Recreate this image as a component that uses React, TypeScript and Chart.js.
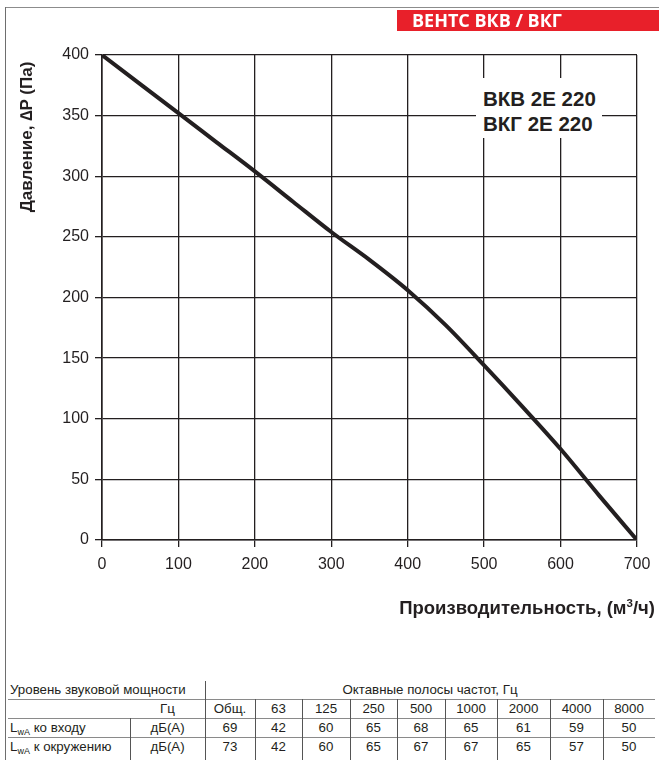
import React, { useEffect, useRef } from 'react';
import { Chart, registerables } from 'chart.js';

Chart.register(...registerables);

// ---------- data ----------
const FLOW = [0, 50, 100, 150, 200, 250, 300, 350, 400, 450, 500, 550, 600, 650, 700];
const PRESSURE = [400, 376, 352, 328, 304, 279, 254, 231, 206, 177, 144, 110, 75, 37, 0];
const X_TICKS = [0, 100, 200, 300, 400, 500, 600, 700];
const Y_TICKS = [0, 50, 100, 150, 200, 250, 300, 350, 400];
const BANNER = 'ВЕНТС ВКВ / ВКГ';
const MODELS = ['ВКВ 2Е 220', 'ВКГ 2Е 220'];
const Y_TITLE = 'Давление, ∆P (Па)';
const X_TITLE_MAIN = 'Производительность, (м';
const X_TITLE_SUP = '3';
const X_TITLE_END = '/ч)';
const TABLE_TITLE = 'Уровень звуковой мощности';
const BANDS_TITLE = 'Октавные полосы частот, Гц';
const HZ_LABEL = 'Гц';
const DB_LABEL = 'дБ(А)';
const BANDS = ['Общ.', '63', '125', '250', '500', '1000', '2000', '4000', '8000'];
const ROW_NAMES = ['ко входу', 'к окружению'];
const INLET = [69, 42, 60, 65, 68, 65, 61, 59, 50];
const SURROUND = [73, 42, 60, 65, 67, 67, 65, 57, 50];

// ---------- styles ----------
const INK = '#231f20';
const GRID = '#231f20';
const RED = '#e8202a';
const LINE_GREY = '#8a8a8a';
const FONT = '"Liberation Sans", Arial, Helvetica, sans-serif';

const COL_EDGES = [205, 255, 302, 350, 397, 445, 497, 550, 603, 655];
const ROW_TOPS = [681, 699, 718, 737, 756];
const UNIT_SEP = 130;
const T_LEFT = 8;

function Cell(props: { left: number; width: number; top: number; height: number; align?: string; children: React.ReactNode }) {
  const { left, width, top, height, align, children } = props;
  return (
    <div
      style={{
        position: 'absolute',
        left,
        width,
        top,
        height,
        lineHeight: height + 'px',
        textAlign: (align || 'center') as any,
        fontFamily: FONT,
        fontSize: 13.3,
        color: INK,
        whiteSpace: 'nowrap',
      }}
    >
      {children}
    </div>
  );
}

function HLine(props: { x1: number; x2: number; y: number; color?: string }) {
  return (
    <div
      style={{
        position: 'absolute',
        left: props.x1,
        top: props.y,
        width: props.x2 - props.x1,
        height: 1,
        background: props.color || LINE_GREY,
      }}
    />
  );
}

function VLine(props: { x: number; y1: number; y2: number; color?: string }) {
  return (
    <div
      style={{
        position: 'absolute',
        left: props.x,
        top: props.y1,
        width: 1,
        height: props.y2 - props.y1,
        background: props.color || '#555',
      }}
    />
  );
}

function LwA(props: { name: string }) {
  return (
    <span>
      L<span style={{ fontSize: 9, position: 'relative', top: 3 }}>wA</span> {props.name}
    </span>
  );
}

export default function App() {
  const canvasRef = useRef<HTMLCanvasElement | null>(null);

  useEffect(() => {
    const canvas = canvasRef.current;
    if (!canvas) return;
    const chart = new Chart(canvas, {
      type: 'line',
      data: {
        datasets: [
          {
            data: FLOW.map((x, i) => ({ x, y: PRESSURE[i] })),
            borderColor: INK,
            borderWidth: 4,
            pointRadius: 0,
            tension: 0.4,
            cubicInterpolationMode: 'monotone',
            fill: false,
          },
        ],
      },
      options: {
        animation: false,
        responsive: false,
        maintainAspectRatio: false,
        devicePixelRatio: 1,
        layout: { padding: { top: 55, right: 22, left: 0, bottom: 0 } },
        plugins: { legend: { display: false }, tooltip: { enabled: false } },
        scales: {
          x: {
            type: 'linear',
            min: 0,
            max: 700,
            afterBuildTicks: (s: any) => {
              s.ticks = X_TICKS.map((v) => ({ value: v }));
            },
            afterFit: (s: any) => {
              s.height = 100;
            },
            grid: { color: GRID, lineWidth: 1.3, tickLength: 7, drawTicks: true },
            border: { color: INK, width: 1.6 },
            ticks: { color: INK, font: { family: FONT, size: 16 }, padding: 8, maxRotation: 0 },
          },
          y: {
            type: 'linear',
            min: 0,
            max: 400,
            afterBuildTicks: (s: any) => {
              s.ticks = Y_TICKS.map((v) => ({ value: v }));
            },
            afterFit: (s: any) => {
              s.width = 102;
            },
            grid: { color: GRID, lineWidth: 1.3, tickLength: 7, drawTicks: true },
            border: { color: INK, width: 1.6 },
            ticks: { color: INK, font: { family: FONT, size: 16 }, padding: 6 },
          },
        },
      } as any,
    });
    return () => chart.destroy();
  }, []);

  return (
    <div style={{ position: 'absolute', left: 0, top: 0, width: 659, height: 760, background: '#fff', overflow: 'hidden' }}>
      <canvas ref={canvasRef} width={659} height={640} style={{ position: 'absolute', left: 0, top: 0, width: 659, height: 640 }} />

      {/* frame */}
      <HLine x1={5} x2={659} y={7} color="#8c8c8c" />
      <VLine x={5} y1={7} y2={760} color="#6e6e6e" />

      {/* banner */}
      <div
        style={{
          position: 'absolute',
          left: 397,
          top: 10,
          width: 262,
          height: 21,
          background: RED,
          color: '#fff',
          fontFamily: '"Open Sans", "Noto Sans", sans-serif',
          fontWeight: 700,
          fontSize: 18,
          lineHeight: '21px',
          paddingLeft: 15,
          boxSizing: 'border-box',
          whiteSpace: 'nowrap',
        }}
      >
        {BANNER}
      </div>

      {/* model label box */}
      <div
        style={{
          position: 'absolute',
          left: 476,
          top: 78,
          width: 126,
          height: 60,
          background: '#fff',
          fontFamily: FONT,
          fontWeight: 700,
          fontSize: 20.5,
          color: INK,
          lineHeight: '25px',
          paddingLeft: 7,
          paddingTop: 8,
          boxSizing: 'border-box',
          whiteSpace: 'nowrap',
        }}
      >
        {MODELS.map((m) => (
          <div key={m}>{m}</div>
        ))}
      </div>

      {/* y title */}
      <div
        style={{
          position: 'absolute',
          left: 27 - 110,
          top: 137 - 10,
          width: 220,
          height: 20,
          lineHeight: '20px',
          textAlign: 'center',
          transform: 'rotate(-90deg)',
          transformOrigin: '50% 50%',
          fontFamily: FONT,
          fontWeight: 700,
          fontSize: 17,
          color: INK,
          whiteSpace: 'nowrap',
        }}
      >
        {Y_TITLE}
      </div>

      {/* x title */}
      <div
        style={{
          position: 'absolute',
          left: 300,
          width: 355,
          top: 598,
          height: 20,
          lineHeight: '20px',
          textAlign: 'right',
          fontFamily: FONT,
          fontWeight: 700,
          fontSize: 18.5,
          color: INK,
          whiteSpace: 'nowrap',
        }}
      >
        {X_TITLE_MAIN}
        <sup style={{ fontSize: 11.5, verticalAlign: 0, position: 'relative', top: -7 }}>{X_TITLE_SUP}</sup>
        {X_TITLE_END}
      </div>

      {/* table */}
      <Cell left={10} width={190} top={ROW_TOPS[0]} height={ROW_TOPS[1] - ROW_TOPS[0]} align="left">
        {TABLE_TITLE}
      </Cell>
      <Cell left={COL_EDGES[0]} width={COL_EDGES[COL_EDGES.length - 1] - COL_EDGES[0]} top={ROW_TOPS[0]} height={ROW_TOPS[1] - ROW_TOPS[0]}>
        {BANDS_TITLE}
      </Cell>
      <Cell left={UNIT_SEP} width={COL_EDGES[0] - UNIT_SEP} top={ROW_TOPS[1]} height={ROW_TOPS[2] - ROW_TOPS[1]}>
        {HZ_LABEL}
      </Cell>
      {BANDS.map((b, i) => (
        <Cell key={'b' + i} left={COL_EDGES[i]} width={COL_EDGES[i + 1] - COL_EDGES[i]} top={ROW_TOPS[1]} height={ROW_TOPS[2] - ROW_TOPS[1]}>
          {b}
        </Cell>
      ))}
      {[INLET, SURROUND].map((row, r) => (
        <React.Fragment key={'r' + r}>
          <Cell left={10} width={UNIT_SEP - 12} top={ROW_TOPS[2 + r]} height={ROW_TOPS[3 + r] - ROW_TOPS[2 + r]} align="left">
            <LwA name={ROW_NAMES[r]} />
          </Cell>
          <Cell left={UNIT_SEP} width={COL_EDGES[0] - UNIT_SEP} top={ROW_TOPS[2 + r]} height={ROW_TOPS[3 + r] - ROW_TOPS[2 + r]}>
            {DB_LABEL}
          </Cell>
          {row.map((v, i) => (
            <Cell key={'v' + i} left={COL_EDGES[i]} width={COL_EDGES[i + 1] - COL_EDGES[i]} top={ROW_TOPS[2 + r]} height={ROW_TOPS[3 + r] - ROW_TOPS[2 + r]}>
              {v}
            </Cell>
          ))}
        </React.Fragment>
      ))}
      <HLine x1={T_LEFT} x2={655} y={ROW_TOPS[1]} />
      <HLine x1={T_LEFT} x2={655} y={ROW_TOPS[2]} />
      <HLine x1={T_LEFT} x2={655} y={ROW_TOPS[3]} />
      <VLine x={COL_EDGES[0]} y1={ROW_TOPS[0]} y2={760} />
      {COL_EDGES.slice(1, -1).map((x) => (
        <VLine key={'c' + x} x={x} y1={ROW_TOPS[1]} y2={760} />
      ))}
      <VLine x={UNIT_SEP} y1={ROW_TOPS[2]} y2={760} />
    </div>
  );
}
